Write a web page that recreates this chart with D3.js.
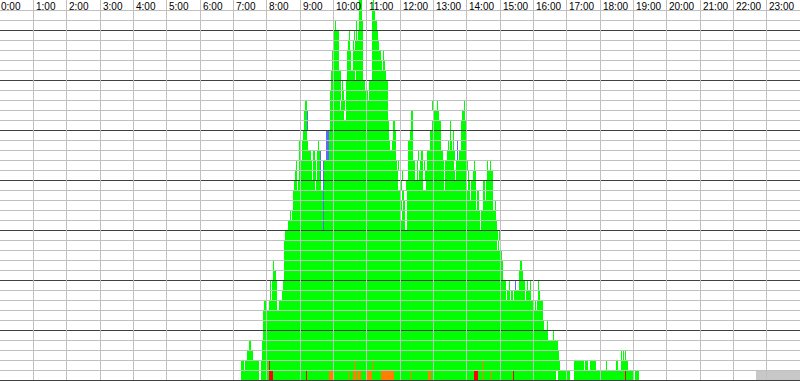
<!DOCTYPE html>
<html>
<head>
<meta charset="utf-8">
<script src="https://cdn.jsdelivr.net/npm/d3@7"></script>
<style>
  html, body { margin: 0; padding: 0; background: #ffffff; }
  svg { display: block; }
</style>
</head>
<body>
<div id="chart"></div>
<script>
// ---- Data (minutes of the day) ----
const hourLabels = ["0:00","1:00","2:00","3:00","4:00","5:00","6:00","7:00","8:00","9:00","10:00","11:00",
  "12:00","13:00","14:00","15:00","16:00","17:00","18:00","19:00","20:00","21:00","22:00","23:00"];

// busy intervals per channel row (row 0 = bottom), [start, end] in minutes
const channelBusy = [
  [[434,466],[470,1001],[1004,1019],[1021,1026],[1033,1141],[1143,1150]],
  [[434,439],[441,466],[470,1008],[1033,1051],[1053,1058],[1062,1073],[1091,1093],[1109,1112],[1118,1130]],
  [[445,455],[472,1006],[1118,1120],[1121,1123],[1125,1127]],
  [[448,452],[472,1004]],
  [[473,986],[995,997]],
  [[473,979],[985,986]],
  [[473,977]],
  [[475,479],[484,499],[502,959],[963,965],[967,977]],
  [[486,488],[490,499],[508,911],[913,918],[920,923],[925,945],[947,956],[968,972]],
  [[486,488],[490,499],[509,911],[916,918],[934,945],[949,950],[954,956],[968,970]],
  [[491,497],[511,905],[934,941]],
  [[491,493],[511,905],[936,940]],
  [[511,904]],
  [[511,895],[896,898]],
  [[513,896],[898,900]],
  [[518,729],[733,864],[866,895]],
  [[522,524],[526,722],[724,729],[733,864],[866,893]],
  [[527,724],[725,729],[733,857],[859,862],[869,887],[891,893]],
  [[527,722],[724,727],[733,839],[841,846],[848,857],[859,862],[869,873],[875,887]],
  [[529,535],[536,567],[569,578],[583,716],[720,724],[731,761],[767,799],[801,841],[842,846],[848,857],[869,873],[875,887]],
  [[531,535],[538,562],[563,569],[571,576],[583,716],[720,722],[724,725],[734,747],[751,752],[754,761],[765,799],[801,819],[821,841],[842,844],[851,857],[877,887]],
  [[533,535],[538,562],[563,569],[571,576],[583,715],[716,718],[734,747],[751,752],[756,761],[763,765],[769,799],[801,817],[821,839],[841,842],[853,855],[877,878],[882,884]],
  [[538,542],[544,560],[563,567],[571,576],[592,713],[734,743],[752,754],[758,761],[769,797],[805,819],[826,839]],
  [[538,542],[544,554],[572,574],[592,702],[706,713],[734,743],[774,794],[806,808],[810,814],[815,817],[830,839]],
  [[545,553],[592,700],[707,713],[738,743],[774,794],[810,812],[815,817],[830,839]],
  [[547,553],[594,700],[707,711],[740,743],[778,794],[810,812],[830,839]],
  [[547,553],[594,619],[623,698],[740,743],[779,790],[832,837]],
  [[549,553],[594,612],[614,621],[623,698],[778,779],[787,788],[835,837]],
  [[594,614],[616,619],[623,659],[661,662],[664,698]],
  [[596,614],[616,617],[623,657],[659,661],[664,698]],
  [[596,614],[625,639],[641,653],[670,695]],
  [[598,610],[625,632],[635,653],[670,688],[689,693]],
  [[598,610],[625,632],[635,653],[670,686],[689,691]],
  [[599,610],[626,630],[635,637],[639,653],[670,682]],
  [[601,610],[628,630],[637,639],[641,643],[644,653],[670,680]],
  [[603,605],[641,643],[646,653],[670,679]],
  [[646,652],[670,675]],
  [[646,652],[671,673]]
];

// status marks: [rowFrom, rowTo, start, end]
const orangeMarks = [
  [0,0,592,599],[0,0,628,630],[0,0,634,635],[0,0,638,640],[0,0,643,650],[0,0,661,670],
  [0,0,686,709],[0,0,738,740],[0,0,770,776],[0,0,869,871],[0,0,884,886],
  [1,1,637,639],[1,1,670,671],[1,1,869,871]
];
const redMarks = [
  [0,0,484,491],[0,0,551,553],[0,0,853,860],[0,0,923,925],[0,0,1125,1127],[1,1,484,486]
];
const blueMarks = [
  [25,26,553,554],[22,24,587,592],[20,22,576,578],[15,21,581,583],[22,23,823,824],[9,9,927,929]
];
const pendingRange = [1361, 1440]; // not yet recorded (bottom row)

// ---- Drawing ----
const W = 800, H = 381;
const rowCount = 38;
const svg = d3.select("#chart").append("svg")
  .attr("width", W).attr("height", H)
  .attr("shape-rendering", "crispEdges");

const x = d3.scaleLinear().domain([0, 1440]).range([0, W]);
const y = d3.scaleLinear().domain([0, rowCount]).range([380, 0]);

const px = v => Math.round(x(v));
function cellRect(g, r, s, e, color) {
  const x0 = px(s), x1 = Math.max(x0 + 1, px(e));
  g.append("rect")
    .attr("x", x0).attr("y", y(r + 1))
    .attr("width", x1 - x0).attr("height", y(r) - y(r + 1))
    .attr("fill", color);
}

svg.append("rect").attr("width", W).attr("height", H).attr("fill", "#ffffff");

const bars = svg.append("g");
channelBusy.forEach((ivs, r) => ivs.forEach(([s, e]) => cellRect(bars, r, s, e, "#00ff00")));
orangeMarks.forEach(([r0, r1, s, e]) => { for (let r = r0; r <= r1; r++) cellRect(bars, r, s, e, "#ff8000"); });
redMarks.forEach(([r0, r1, s, e]) => { for (let r = r0; r <= r1; r++) cellRect(bars, r, s, e, "#ff0000"); });
blueMarks.forEach(([r0, r1, s, e]) => { for (let r = r0; r <= r1; r++) cellRect(bars, r, s, e, "#6464ff"); });
cellRect(bars, 0, pendingRange[0], pendingRange[1], "#c8c8c8");

// grid
const grid = svg.append("g");
d3.range(1, rowCount).forEach(k => {
  const yy = Math.round(y(k)) + 0.5;
  grid.append("line").attr("x1", 0).attr("x2", W).attr("y1", yy).attr("y2", yy)
    .attr("stroke", k % 5 === 0 ? "#404040" : "#c0c0c0").attr("stroke-width", 1);
});
hourLabels.forEach((lab, h) => {
  if (h === 0) return;
  const xx = Math.floor(x(h * 60)) + 0.5;
  grid.append("line").attr("x1", xx).attr("x2", xx).attr("y1", 0).attr("y2", 380)
    .attr("stroke", "#c0c0c0").attr("stroke-width", 1);
});
grid.append("line").attr("x1", 0).attr("x2", W).attr("y1", 380.5).attr("y2", 380.5)
  .attr("stroke", "#404040").attr("stroke-width", 1);

// hour labels
svg.append("g").selectAll("text").data(hourLabels).join("text")
  .attr("x", (d, h) => h === 0 ? 1 : Math.floor(x(h * 60)) + 3)
  .attr("y", 10)
  .attr("font-family", "Liberation Sans, Arial, sans-serif")
  .attr("font-size", "10px")
  .attr("fill", "#000000")
  .text(d => d);
</script>
</body>
</html>
